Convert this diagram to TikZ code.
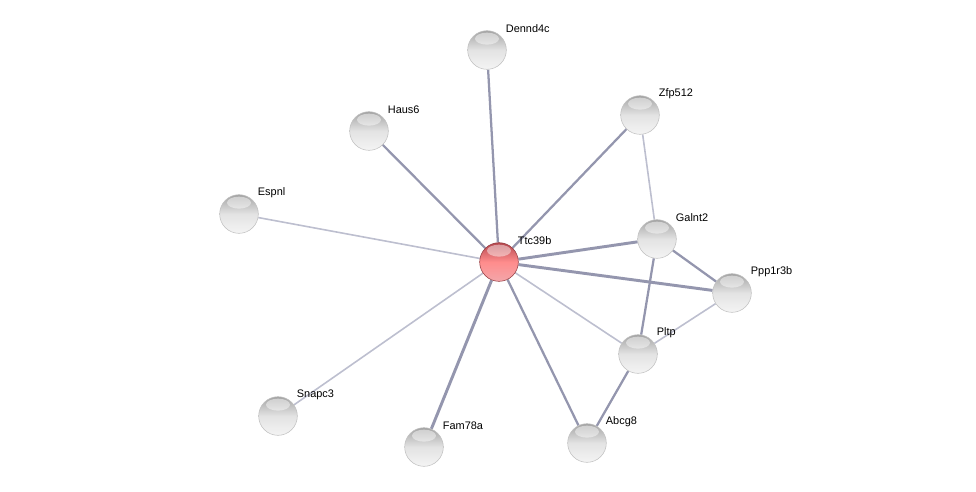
\documentclass[tikz,border=0pt]{standalone}
\usepackage{fontspec}
\setmainfont{Liberation Sans}
\usetikzlibrary{backgrounds}
\definecolor{edgeDark}{HTML}{9496AE}
\definecolor{edgeLight}{HTML}{BDBFCF}
\definecolor{ballTop}{HTML}{A4A4A4}
\definecolor{ballBot}{HTML}{F4F4F4}
\definecolor{redTop}{HTML}{B5474E}
\definecolor{redBot}{HTML}{F3A6AA}
\tikzset{
  protein/.style={circle, minimum size=29pt, inner sep=0pt, draw=gray!50, line width=0.4pt,
                  top color=ballTop, bottom color=ballBot, middle color=gray!22,
                  path picture={\shade[top color=white, bottom color=white, middle color=white,
                    opacity=0.45]
                    ([yshift=-6pt]path picture bounding box.north) ellipse (9pt and 4.5pt);}},
  query/.style={protein, draw=redTop!80!black, top color=redTop, bottom color=redBot,
                middle color=red!45!white},
  lbl/.style={font=\fontsize{8.2pt}{9pt}\selectfont, inner sep=1pt},
  linkA/.style={edgeDark, line width=2.2pt},
  linkB/.style={edgeDark, line width=1.7pt},
  linkC/.style={edgeLight, line width=1.2pt},
}
\begin{document}
\begin{tikzpicture}[x=0.75pt, y=-0.75pt]
  \useasboundingbox (0,0) rectangle (976,492);
  % proteins
  \node[query]   (ttc)  at (499,262) {};
  \node[protein] (den)  at (487,50)  {};
  \node[protein] (haus) at (369,131) {};
  \node[protein] (esp)  at (239,214) {};
  \node[protein] (zfp)  at (640,115) {};
  \node[protein] (gal)  at (657,239) {};
  \node[protein] (ppp)  at (732,293) {};
  \node[protein] (pltp) at (638,354) {};
  \node[protein] (abc)  at (587,443) {};
  \node[protein] (fam)  at (424,447) {};
  \node[protein] (snap) at (278,416) {};
  % names
  \node[lbl, anchor=west] at ([xshift=13pt, yshift=15.7pt] ttc)  {Ttc39b};
  \node[lbl, anchor=west] at ([xshift=13pt, yshift=15.7pt] den)  {Dennd4c};
  \node[lbl, anchor=west] at ([xshift=13pt, yshift=15.7pt] haus) {Haus6};
  \node[lbl, anchor=west] at ([xshift=13pt, yshift=15.7pt] esp)  {Espnl};
  \node[lbl, anchor=west] at ([xshift=13pt, yshift=15.7pt] zfp)  {Zfp512};
  \node[lbl, anchor=west] at ([xshift=13pt, yshift=15.7pt] gal)  {Galnt2};
  \node[lbl, anchor=west] at ([xshift=13pt, yshift=15.7pt] ppp)  {Ppp1r3b};
  \node[lbl, anchor=west] at ([xshift=13pt, yshift=15.7pt] pltp) {Pltp};
  \node[lbl, anchor=west] at ([xshift=13pt, yshift=15.7pt] abc)  {Abcg8};
  \node[lbl, anchor=west] at ([xshift=13pt, yshift=15.7pt] fam)  {Fam78a};
  \node[lbl, anchor=west] at ([xshift=13pt, yshift=15.7pt] snap) {Snapc3};
  % links
  \begin{scope}[on background layer]
    \draw[linkB] (ttc) -- (den);
    \draw[linkB] (ttc) -- (haus);
    \draw[linkC] (ttc) -- (esp);
    \draw[linkB] (ttc) -- (zfp);
    \draw[linkA] (ttc) -- (gal);
    \draw[linkA] (ttc) -- (ppp);
    \draw[linkC] (ttc) -- (pltp);
    \draw[linkB] (ttc) -- (abc);
    \draw[linkA] (ttc) -- (fam);
    \draw[linkC] (ttc) -- (snap);
    \draw[linkC] (zfp) -- (gal);
    \draw[linkB] (gal) -- (ppp);
    \draw[linkB] (gal) -- (pltp);
    \draw[linkC] (ppp) -- (pltp);
    \draw[linkB] (pltp) -- (abc);
  \end{scope}
\end{tikzpicture}
\end{document}
